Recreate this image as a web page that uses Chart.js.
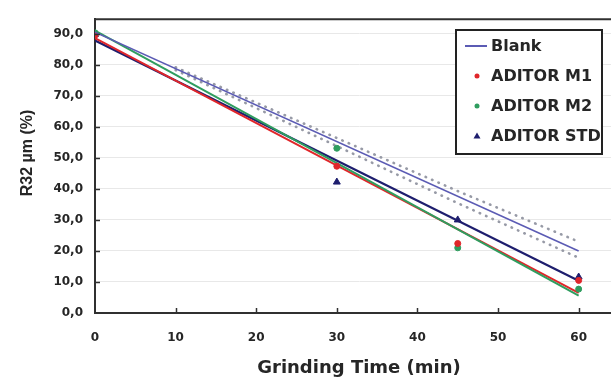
<!DOCTYPE html>
<html>
<head>
<meta charset="utf-8">
<script src="https://cdn.jsdelivr.net/npm/chart.js@4"></script>
<style>
  body { margin: 0; background: #fff; overflow: hidden; }
  #wrap { width: 628px; height: 379px; }
</style>
</head>
<body>
<div id="wrap"><canvas id="chart" width="628" height="379"></canvas></div>
<script>
// measured points
const timeMin = [0, 30, 45, 60];
const m1Values = [89.5, 47.3, 22.4, 10.5];
const m2Values = [90.3, 53.1, 21.0, 7.7];
const stdValues = [89.8, 42.2, 30.0, 11.6];

// linear fits, read at 0 and 60 min
const fitTime = [0, 60];
const blankFit = [90.5, 20.0];
const m1Fit = [88.6, 6.5];
const m2Fit = [91.0, 5.6];
const stdFit = [87.8, 10.4];

// dotted band around the blank fit
const bandTime = [10, 30, 45, 60];
const bandUpper = [79.2, 56.4, 39.3, 23.0];
const bandLower = [78.3, 53.8, 35.4, 17.8];

const xTicks = [0, 10, 20, 30, 40, 50, 60];
const yTicks = [0, 10, 20, 30, 40, 50, 60, 70, 80, 90];

const seriesLabels = ['Blank', 'ADITOR M1', 'ADITOR M2', 'ADITOR STD'];
const yTitle = 'R32 µm (%)';
const blue = '#5b5bb4', red = '#e0262a', green = '#2f9d5f', navy = '#1e1e6e';
const ink = '#262626';

function pts(xs, ys) {
    return xs.map((x, i) => ({x: x, y: ys[i]}));
}
function fitLine(ys, color, width) {
    return {data: pts(fitTime, ys), showLine: true, borderColor: color,
        borderWidth: width, pointRadius: 0, label: ''};
}
function band(ys) {
    return {data: pts(bandTime, ys), showLine: true, borderColor: '#979aa6',
        borderWidth: 2.6, borderDash: [0.5, 6.5], borderCapStyle: 'round',
        pointRadius: 0, label: ''};
}

// top frame line, inner tick marks, y title and the boxed legend
const extras = {
    id: 'extras',
    afterDraw(chart) {
        const ctx = chart.ctx;
        const a = chart.chartArea;
        const xs = chart.scales.x, ys = chart.scales.y;
        ctx.save();
        ctx.strokeStyle = '#303030';
        ctx.lineWidth = 2;
        ctx.beginPath();
        ctx.moveTo(a.left - 1, a.top);
        ctx.lineTo(a.right, a.top);
        ctx.stroke();
        ctx.lineWidth = 1.5;
        xTicks.slice(1).forEach(v => {
            const px = Math.round(xs.getPixelForValue(v)) + 0.5;
            ctx.beginPath(); ctx.moveTo(px, a.bottom); ctx.lineTo(px, a.bottom - 5); ctx.stroke();
        });
        yTicks.slice(1).forEach(v => {
            const py = Math.round(ys.getPixelForValue(v)) + 0.5;
            ctx.beginPath(); ctx.moveTo(a.left, py); ctx.lineTo(a.left + 5, py); ctx.stroke();
        });

        // y axis title, sits a bit above the plot centre in the original
        ctx.save();
        ctx.translate(28, 153);
        ctx.rotate(-Math.PI / 2);
        ctx.font = 'bold 16px "Liberation Sans"';
        ctx.fillStyle = ink;
        ctx.textAlign = 'center';
        ctx.textBaseline = 'middle';
        ctx.fillText(yTitle, 0, 0);
        ctx.restore();

        // legend
        const bx = 456, by = 30, bw = 146, bh = 124;
        ctx.fillStyle = '#fff';
        ctx.fillRect(bx, by, bw, bh);
        ctx.strokeStyle = '#222';
        ctx.lineWidth = 2;
        ctx.strokeRect(bx, by, bw, bh);
        ctx.font = 'bold 16px "DejaVu Sans"';
        ctx.textBaseline = 'middle';
        ctx.textAlign = 'left';
        const rowY = [46, 76, 106, 136];
        const mk = chart.data.datasets;
        seriesLabels.forEach((t, i) => {
            const y = rowY[i];
            if (i === 0) {
                ctx.strokeStyle = blue; ctx.lineWidth = 2;
                ctx.beginPath(); ctx.moveTo(465, y); ctx.lineTo(487, y); ctx.stroke();
            } else {
                const d = mk[i];
                ctx.fillStyle = d.backgroundColor;
                ctx.beginPath();
                if (d.pointStyle === 'triangle') {
                    ctx.moveTo(477, y - 3.5); ctx.lineTo(480.5, y + 2.5); ctx.lineTo(473.5, y + 2.5);
                    ctx.closePath();
                } else {
                    ctx.arc(477, y, 2.5, 0, Math.PI * 2);
                }
                ctx.fill();
            }
            ctx.fillStyle = ink;
            ctx.fillText(t, 491, y + 1);
        });
        ctx.restore();
    }
};

new Chart(document.getElementById('chart'), {
    type: 'scatter',
    data: {
        datasets: [
            fitLine(blankFit, blue, 1.6),
            {label: 'ADITOR M1', data: pts(timeMin, m1Values), backgroundColor: red, borderColor: red,
                pointRadius: 3, pointStyle: 'circle'},
            {label: 'ADITOR M2', data: pts(timeMin, m2Values), backgroundColor: green, borderColor: green,
                pointRadius: 3, pointStyle: 'circle'},
            {label: 'ADITOR STD', data: pts(timeMin, stdValues), backgroundColor: navy, borderColor: navy,
                pointRadius: 4, pointStyle: 'triangle'},
            band(bandUpper),
            band(bandLower),
            fitLine(m2Fit, green, 2),
            fitLine(m1Fit, red, 2),
            fitLine(stdFit, navy, 2.2)
        ]
    },
    options: {
        responsive: false,
        animation: false,
        devicePixelRatio: 1,
        layout: {padding: {top: 15, right: 2, left: 0, bottom: 0}},
        plugins: {legend: {display: false}, tooltip: {enabled: false}},
        scales: {
            x: {
                type: 'linear', min: 0, max: 65.5,
                afterBuildTicks: s => { s.ticks = xTicks.map(v => ({value: v})); },
                afterFit: s => { s.height = 66; },
                grid: {display: false, drawTicks: false},
                border: {color: '#303030', width: 2},
                ticks: {padding: 18, color: ink, font: {family: 'DejaVu Sans', size: 12, weight: 'bold'}},
                title: {display: true, text: 'Grinding Time (min)', color: ink, padding: 0,
                    font: {family: 'DejaVu Sans', size: 18, weight: 'bold'}}
            },
            y: {
                min: 0, max: 94.7,
                afterBuildTicks: s => { s.ticks = yTicks.map(v => ({value: v})); },
                afterFit: s => { s.width = 95; },
                grid: {color: '#e8e8e8', lineWidth: 1, drawTicks: false},
                border: {color: '#303030', width: 2},
                ticks: {padding: 12, color: ink, font: {family: 'DejaVu Sans', size: 12, weight: 'bold'},
                    callback: v => v.toFixed(1).replace('.', ',')}
            }
        }
    },
    plugins: [extras]
});
</script>
</body>
</html>
